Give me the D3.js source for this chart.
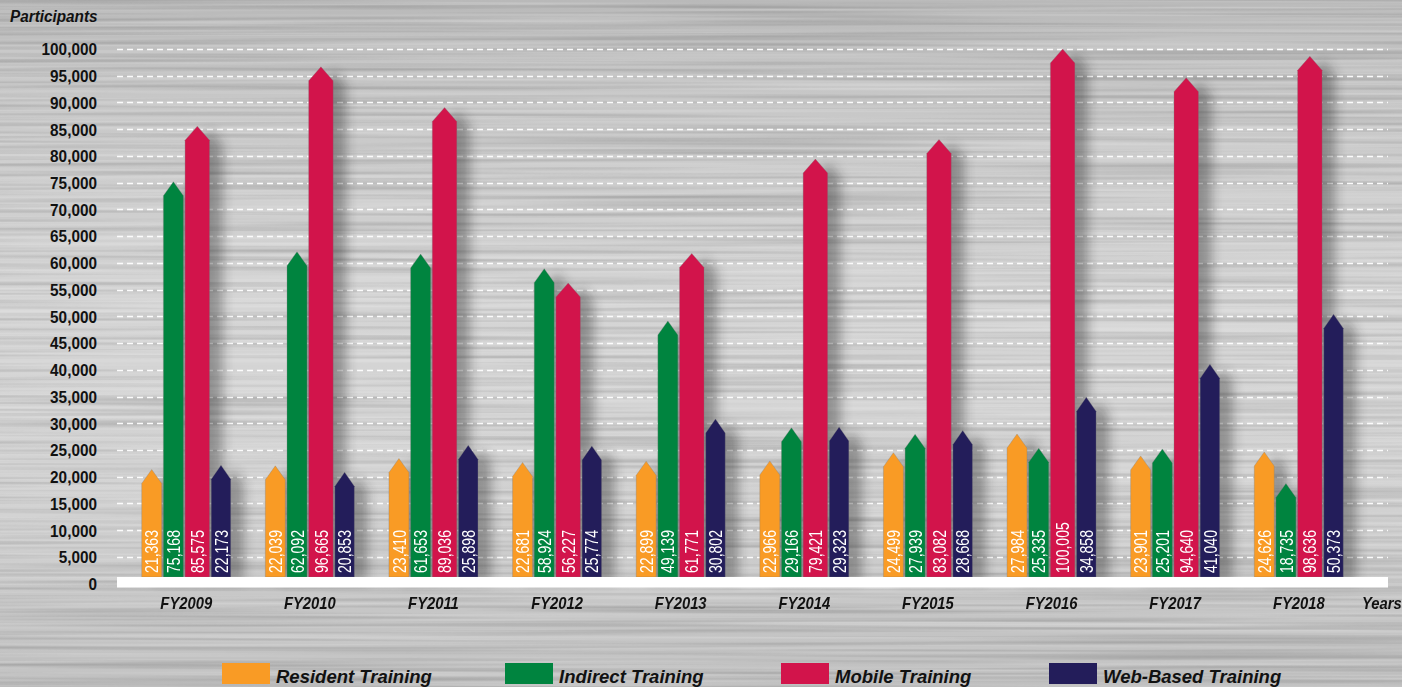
<!DOCTYPE html>
<html>
<head>
<meta charset="utf-8">
<script src="https://cdn.jsdelivr.net/npm/d3@7"></script>
<style>
  html, body { margin: 0; padding: 0; background: #c8c8c8; }
  svg { display: block; }
  text { font-family: "Liberation Sans", Arial, sans-serif; }
</style>
</head>
<body>
<svg id="chart" width="1402" height="687"></svg>
<script>
const categories = ["FY2009","FY2010","FY2011","FY2012","FY2013","FY2014","FY2015","FY2016","FY2017","FY2018"];
const seriesNames = ["Resident Training","Indirect Training","Mobile Training","Web-Based Training"];
const residentTraining = [21363, 22039, 23410, 22681, 22899, 22966, 24499, 27984, 23901, 24626];
const indirectTraining = [75168, 62092, 61653, 58924, 49139, 29166, 27939, 25335, 25201, 18735];
const mobileTraining   = [85575, 96665, 89036, 56227, 61771, 79421, 83082, 100005, 94640, 98636];
const webBasedTraining = [22173, 20853, 25898, 25774, 30802, 29323, 28668, 34858, 41040, 50373];
const yTickValues = d3.range(0, 100001, 5000);
const seriesColors = ["#F99B25", "#00843F", "#D2144B", "#231D5A"];
// relative bar widths (style): mobile bars are drawn a little wider
const seriesWidthWeights = [20, 20, 24.5, 19.5];

const seriesValues = [residentTraining, indirectTraining, mobileTraining, webBasedTraining];
const fmt = d3.format(",");

const svg = d3.select("#chart");
const W = 1402, H = 687;
const defs = svg.append("defs");

// background gradient
const bg = defs.append("linearGradient").attr("id","bg").attr("x1",0).attr("y1",0).attr("x2",0).attr("y2",1);
[[0,"#b9b9b9"],[0.12,"#c6c6c6"],[0.45,"#d5d5d5"],[0.75,"#d1d1d1"],[0.9,"#c5c5c5"],[1,"#c0c0c0"]]
  .forEach(([o,c]) => bg.append("stop").attr("offset",o).attr("stop-color",c));

// brushed metal noise
const fl = defs.append("filter").attr("id","brush").attr("x",0).attr("y",0).attr("width","100%").attr("height","100%");
fl.append("feTurbulence").attr("type","fractalNoise").attr("baseFrequency","0.0015 0.3").attr("numOctaves",2).attr("seed",3);
fl.append("feColorMatrix").attr("type","matrix")
  .attr("values","0 0 0 0 1  0 0 0 0 1  0 0 0 0 1  0.5 0 0 0 -0.2");
const fl2 = defs.append("filter").attr("id","brush2").attr("x",0).attr("y",0).attr("width","100%").attr("height","100%");
fl2.append("feTurbulence").attr("type","fractalNoise").attr("baseFrequency","0.002 0.22").attr("numOctaves",2).attr("seed",11);
fl2.append("feColorMatrix").attr("type","matrix")
  .attr("values","0 0 0 0 0  0 0 0 0 0  0 0 0 0 0  0.35 0 0 0 -0.15");

const blur = defs.append("filter").attr("id","blur").attr("x","-50%").attr("y","-10%").attr("width","200%").attr("height","120%");
blur.append("feGaussianBlur").attr("stdDeviation", 6);

svg.append("rect").attr("width",W).attr("height",H).attr("fill","url(#bg)");
svg.append("rect").attr("width",W).attr("height",H).attr("filter","url(#brush)");
svg.append("rect").attr("width",W).attr("height",H).attr("filter","url(#brush2)");

// scales
const plotLeft = 117, plotRight = 1388;
const x = d3.scaleBand().domain(categories).range([117, 1368]).paddingInner(0.28).paddingOuter(0.2);
const gap = 1.7;
const totalW = d3.sum(seriesWidthWeights) + gap * (seriesWidthWeights.length - 1);
const k = x.bandwidth() / totalW;
const subOffset = seriesWidthWeights.map((w, i) => (d3.sum(seriesWidthWeights.slice(0, i)) + gap * i) * k);
const subWidth = seriesWidthWeights.map(w => w * k);
const y = d3.scaleLinear().domain([0, 100000]).range([583.7, 49]);
const barBottom = 577;

// grid
svg.append("g").selectAll("line").data(yTickValues.filter(v => v > 0)).join("line")
  .attr("x1", plotLeft).attr("x2", plotRight)
  .attr("y1", d => Math.round(y(d)) + 0.5).attr("y2", d => Math.round(y(d)) + 0.5)
  .attr("stroke", "#ffffff").attr("stroke-width", 1.3).attr("stroke-dasharray", "6,4").attr("opacity", 0.95);

// y axis labels
const yAxis = d3.axisLeft(y).tickValues(yTickValues).tickFormat(fmt).tickSize(0).tickPadding(0);
const gy = svg.append("g").attr("transform", "translate(97,0)").call(yAxis);
gy.select(".domain").remove();
gy.selectAll("text")
  .attr("x", null).attr("dy", null)
  .attr("transform", "translate(0,5.8) scale(0.93,1)")
  .attr("font-size", 16.5).attr("font-weight", "bold").attr("fill", "#111")
  .attr("font-family", '"Liberation Sans", Arial, sans-serif');

// data records
const records = [];
categories.forEach((c, i) => {
  seriesNames.forEach((s, j) => {
    records.push({cat: c, series: s, j, value: seriesValues[j][i]});
  });
});

const barX = d => x(d.cat) + subOffset[d.j];
function arrowPath(d) {
  const x0 = barX(d);
  const w = subWidth[d.j];
  const top = y(d.value);
  const head = 14;
  return `M${x0},${barBottom} L${x0},${top + head} L${x0 + w / 2},${top} L${x0 + w},${top + head} L${x0 + w},${barBottom} Z`;
}

// shadows
svg.append("g").attr("filter", "url(#blur)").attr("opacity", 0.38)
  .selectAll("path").data(records).join("path")
  .attr("d", arrowPath)
  .attr("transform", "translate(13,4)")
  .attr("fill", "#222");

// bars
svg.append("g").selectAll("path").data(records).join("path")
  .attr("d", arrowPath)
  .attr("fill", d => seriesColors[d.j])
  .attr("stroke", "rgba(120,120,120,0.5)").attr("stroke-width", 0.6);

// baseline white strip
svg.append("rect").attr("x", plotLeft).attr("y", 577).attr("width", plotRight - plotLeft).attr("height", 10.5).attr("fill", "#ffffff");

// value labels
svg.append("g").selectAll("text").data(records).join("text")
  .attr("transform", d => `translate(${barX(d) + subWidth[d.j] / 2 + 6.6},573) rotate(-90) scale(0.74,1)`)
  .attr("font-size", 19).attr("fill", "#ffffff")
  .attr("text-anchor", "start")
  .text(d => fmt(d.value));

// x labels
svg.append("g").selectAll("text").data(categories).join("text")
  .attr("transform", d => `translate(${x(d) + x.bandwidth() / 2},609) scale(0.87,1)`)
  .attr("text-anchor", "middle").attr("font-size", 17).attr("font-weight", "bold").attr("font-style", "italic").attr("fill", "#111")
  .text(d => d);

svg.append("text").attr("transform", "translate(1362,609) scale(0.87,1)")
  .attr("font-size", 17).attr("font-weight", "bold").attr("font-style", "italic").attr("fill", "#111").text("Years");

svg.append("text").attr("transform", "translate(10,22) scale(0.9,1)")
  .attr("font-size", 17).attr("font-weight", "bold").attr("font-style", "italic").attr("fill", "#111").text("Participants");

// legend
const legendX = [222, 505, 781, 1049];
const lg = svg.append("g").selectAll("g").data(seriesNames).join("g")
  .attr("transform", (d, i) => `translate(${legendX[i]},663)`);
lg.append("rect").attr("width", 48).attr("height", 21).attr("fill", (d, i) => seriesColors[i]);
lg.append("text").attr("transform", "translate(54,19.5)")
  .attr("font-size", 18.5).attr("font-weight", "bold").attr("font-style", "italic").attr("fill", "#111")
  .text(d => d);
</script>
</body>
</html>
